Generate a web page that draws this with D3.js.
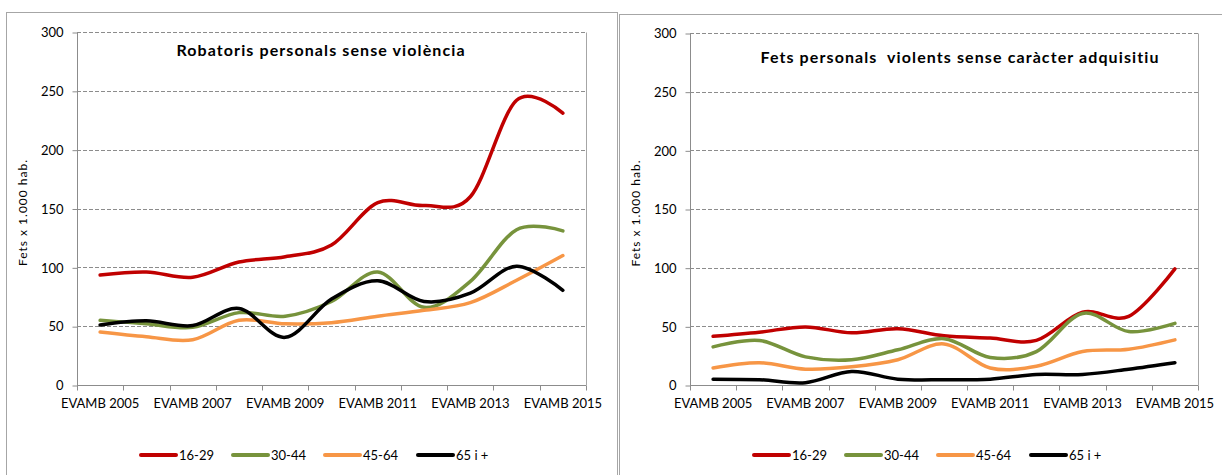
<!DOCTYPE html>
<html lang="ca">
  <head>
    <meta charset="UTF-8" />
    <title>EVAMB - fets per edat</title>
    <style>
  body { margin: 0; background: #fff; }
  svg text { font-family: Lato, "Open Sans", sans-serif; fill: #000; }
  .tick-lbl { font-size: 13px; }
  .ttl { font-size: 16px; font-weight: bold; letter-spacing: 1.1px; }
  .ylbl { font-size: 12px; letter-spacing: 1px; }
  .leg { font-size: 13px; }
</style>
  </head>
  <body>
    <div class="chart"></div>
    <script src="https://cdn.jsdelivr.net/npm/d3@7"></script>
    <script>

    // categories / axis
    var years = ["EVAMB 2005", "EVAMB 2006", "EVAMB 2007", "EVAMB 2008", "EVAMB 2009",
                 "EVAMB 2010", "EVAMB 2011", "EVAMB 2012", "EVAMB 2013", "EVAMB 2014", "EVAMB 2015"];
    var yTicks = [0, 50, 100, 150, 200, 250, 300];
    var ageGroups = ["16-29", "30-44", "45-64", "65 i +"];
    var groupColors = ["#c00000", "#77933c", "#f79646", "#000000"];

    // Robatoris personals sense violencia
    var rob_16_29 = [93.5, 96, 91.5, 104.5, 109, 119, 155, 152.5, 160, 242, 231];
    var rob_30_44 = [55, 52, 49, 61.5, 58.5, 71, 96, 66, 88, 132, 131];
    var rob_45_64 = [45, 41, 38.5, 55, 52, 53, 58.5, 63.5, 70, 89, 110];
    var rob_65 = [51, 54.5, 50.5, 65, 40.5, 73, 88.5, 71, 78, 101, 80.5];

    // Fets personals violents sense caracter adquisitiu
    var fets_16_29 = [41.5, 45, 49.5, 44.5, 48, 42, 40, 38, 62, 58.5, 99];
    var fets_30_44 = [32.5, 38, 24, 21.5, 30, 39.5, 23.5, 28.5, 61, 45.5, 52.5];
    var fets_45_64 = [14.5, 19, 13.5, 15.5, 21.5, 35, 14.5, 16, 28.5, 30.5, 38.5];
    var fets_65 = [5, 4.5, 2, 11.5, 5, 4.5, 5, 9, 9, 13.5, 19];

    var width = 1222;
    var height = 475;

    var svg = d3.select(".chart")
        .append("svg")
        .attr("width", width)
        .attr("height", height);

    function drawPanel(box, plot, title, titleY, series) {
      var g = svg.append("g");

      // panel frame
      g.append("rect")
        .attr("x", box.x + 0.5)
        .attr("y", box.y + 0.5)
        .attr("width", box.w)
        .attr("height", box.h)
        .attr("fill", "none")
        .attr("stroke", "#a6a6a6");

      var x = d3.scaleBand()
        .domain(years)
        .range([plot.left, plot.right]);

      var y = d3.scaleLinear()
        .domain([0, 300])
        .range([plot.bottom, plot.top]);

      // gridlines
      g.selectAll(".grid")
        .data(yTicks.filter(function(d){ return d > 0; }))
        .enter()
        .append("line")
        .attr("x1", plot.left)
        .attr("x2", plot.right)
        .attr("y1", function(d){ return Math.round(y(d)) + 0.5; })
        .attr("y2", function(d){ return Math.round(y(d)) + 0.5; })
        .attr("stroke", "#8c8c8c")
        .attr("stroke-dasharray", "4,2");

      // right border of plot area
      g.append("line")
        .attr("x1", plot.right + 0.5).attr("x2", plot.right + 0.5)
        .attr("y1", Math.round(y(300)) + 0.5).attr("y2", Math.round(y(0)) + 0.5)
        .attr("stroke", "#a6a6a6");

      // y axis
      var yAxis = d3.axisLeft(y)
        .tickValues(yTicks)
        .tickSize(5)
        .tickPadding(9);
      var ya = g.append("g")
        .attr("transform", "translate(" + (plot.left + 0.5) + ",0.5)")
        .call(yAxis);
      ya.selectAll("text").attr("class", "tick-lbl").attr("font-family", null).attr("font-size", null);
      ya.selectAll("line, path").attr("stroke", "#8c8c8c");
      ya.select(".domain").attr("d", "M0," + y(300) + "V" + y(0));

      // x axis, ticks between categories, labels every other year
      var xAxis = d3.axisBottom(x)
        .tickSize(0)
        .tickPadding(13)
        .tickFormat(function(d, i){ return i % 2 === 0 ? d : ""; });
      var xa = g.append("g")
        .attr("transform", "translate(0," + (Math.round(y(0)) + 0.5) + ")")
        .call(xAxis);
      xa.selectAll("text").attr("class", "tick-lbl").attr("font-family", null).attr("font-size", null);
      xa.select(".domain").attr("stroke", "#8c8c8c").attr("d", "M" + plot.left + ",0H" + plot.right);
      var edges = years.map(function(d){ return x(d); }).concat([plot.right]);
      xa.selectAll(".edge")
        .data(edges)
        .enter()
        .append("line")
        .attr("x1", function(d){ return Math.round(d) + 0.5; })
        .attr("x2", function(d){ return Math.round(d) + 0.5; })
        .attr("y1", 0)
        .attr("y2", 5)
        .attr("stroke", "#8c8c8c");

      // title
      g.append("text")
        .attr("class", "ttl")
        .attr("x", box.x + title.cx)
        .attr("y", titleY)
        .attr("text-anchor", "middle")
        .attr("xml:space", "preserve")
        .text(title.text);

      // y label
      g.append("text")
        .attr("class", "ylbl")
        .attr("transform", "translate(" + (plot.left - 50) + "," + (y(150) + 4) + ") rotate(-90)")
        .attr("text-anchor", "middle")
        .text("Fets x 1.000 hab.");

      // lines
      var line = d3.line()
        .x(function(d, i){ return x(years[i]) + x.bandwidth() / 2; })
        .y(function(d){ return y(d); })
        .curve(d3.curveCatmullRom.alpha(0));

      g.selectAll(".series")
        .data(series)
        .enter()
        .append("path")
        .attr("d", function(d){ return line(d); })
        .attr("fill", "none")
        .attr("stroke", function(d, i){ return groupColors[i]; })
        .attr("stroke-width", 3.5)
        .attr("stroke-linecap", "round");

      // legend
      var legX = [plot.left + 64, plot.left + 156, plot.left + 248, plot.left + 341];
      var leg = g.append("g");
      leg.selectAll("line")
        .data(ageGroups)
        .enter()
        .append("line")
        .attr("x1", function(d, i){ return legX[i]; })
        .attr("x2", function(d, i){ return legX[i] + 35; })
        .attr("y1", 455)
        .attr("y2", 455)
        .attr("stroke", function(d, i){ return groupColors[i]; })
        .attr("stroke-width", 4)
        .attr("stroke-linecap", "round");
      leg.selectAll("text")
        .data(ageGroups)
        .enter()
        .append("text")
        .attr("class", "leg")
        .attr("x", function(d, i){ return legX[i] + 38; })
        .attr("y", 460)
        .text(function(d){ return d; });
    }

    drawPanel({x: 6, y: 12, w: 611, h: 500},
              {left: 77, right: 586, top: 32, bottom: 385},
              {text: "Robatoris personals sense violència", cx: 315},
              56,
              [rob_16_29, rob_30_44, rob_45_64, rob_65]);

    drawPanel({x: 619, y: 14, w: 610, h: 500},
              {left: 690, right: 1198, top: 33, bottom: 385},
              {text: "Fets personals  violents sense caràcter adquisitiu", cx: 341},
              63,
              [fets_16_29, fets_30_44, fets_45_64, fets_65]);

    </script>
  </body>
</html>
